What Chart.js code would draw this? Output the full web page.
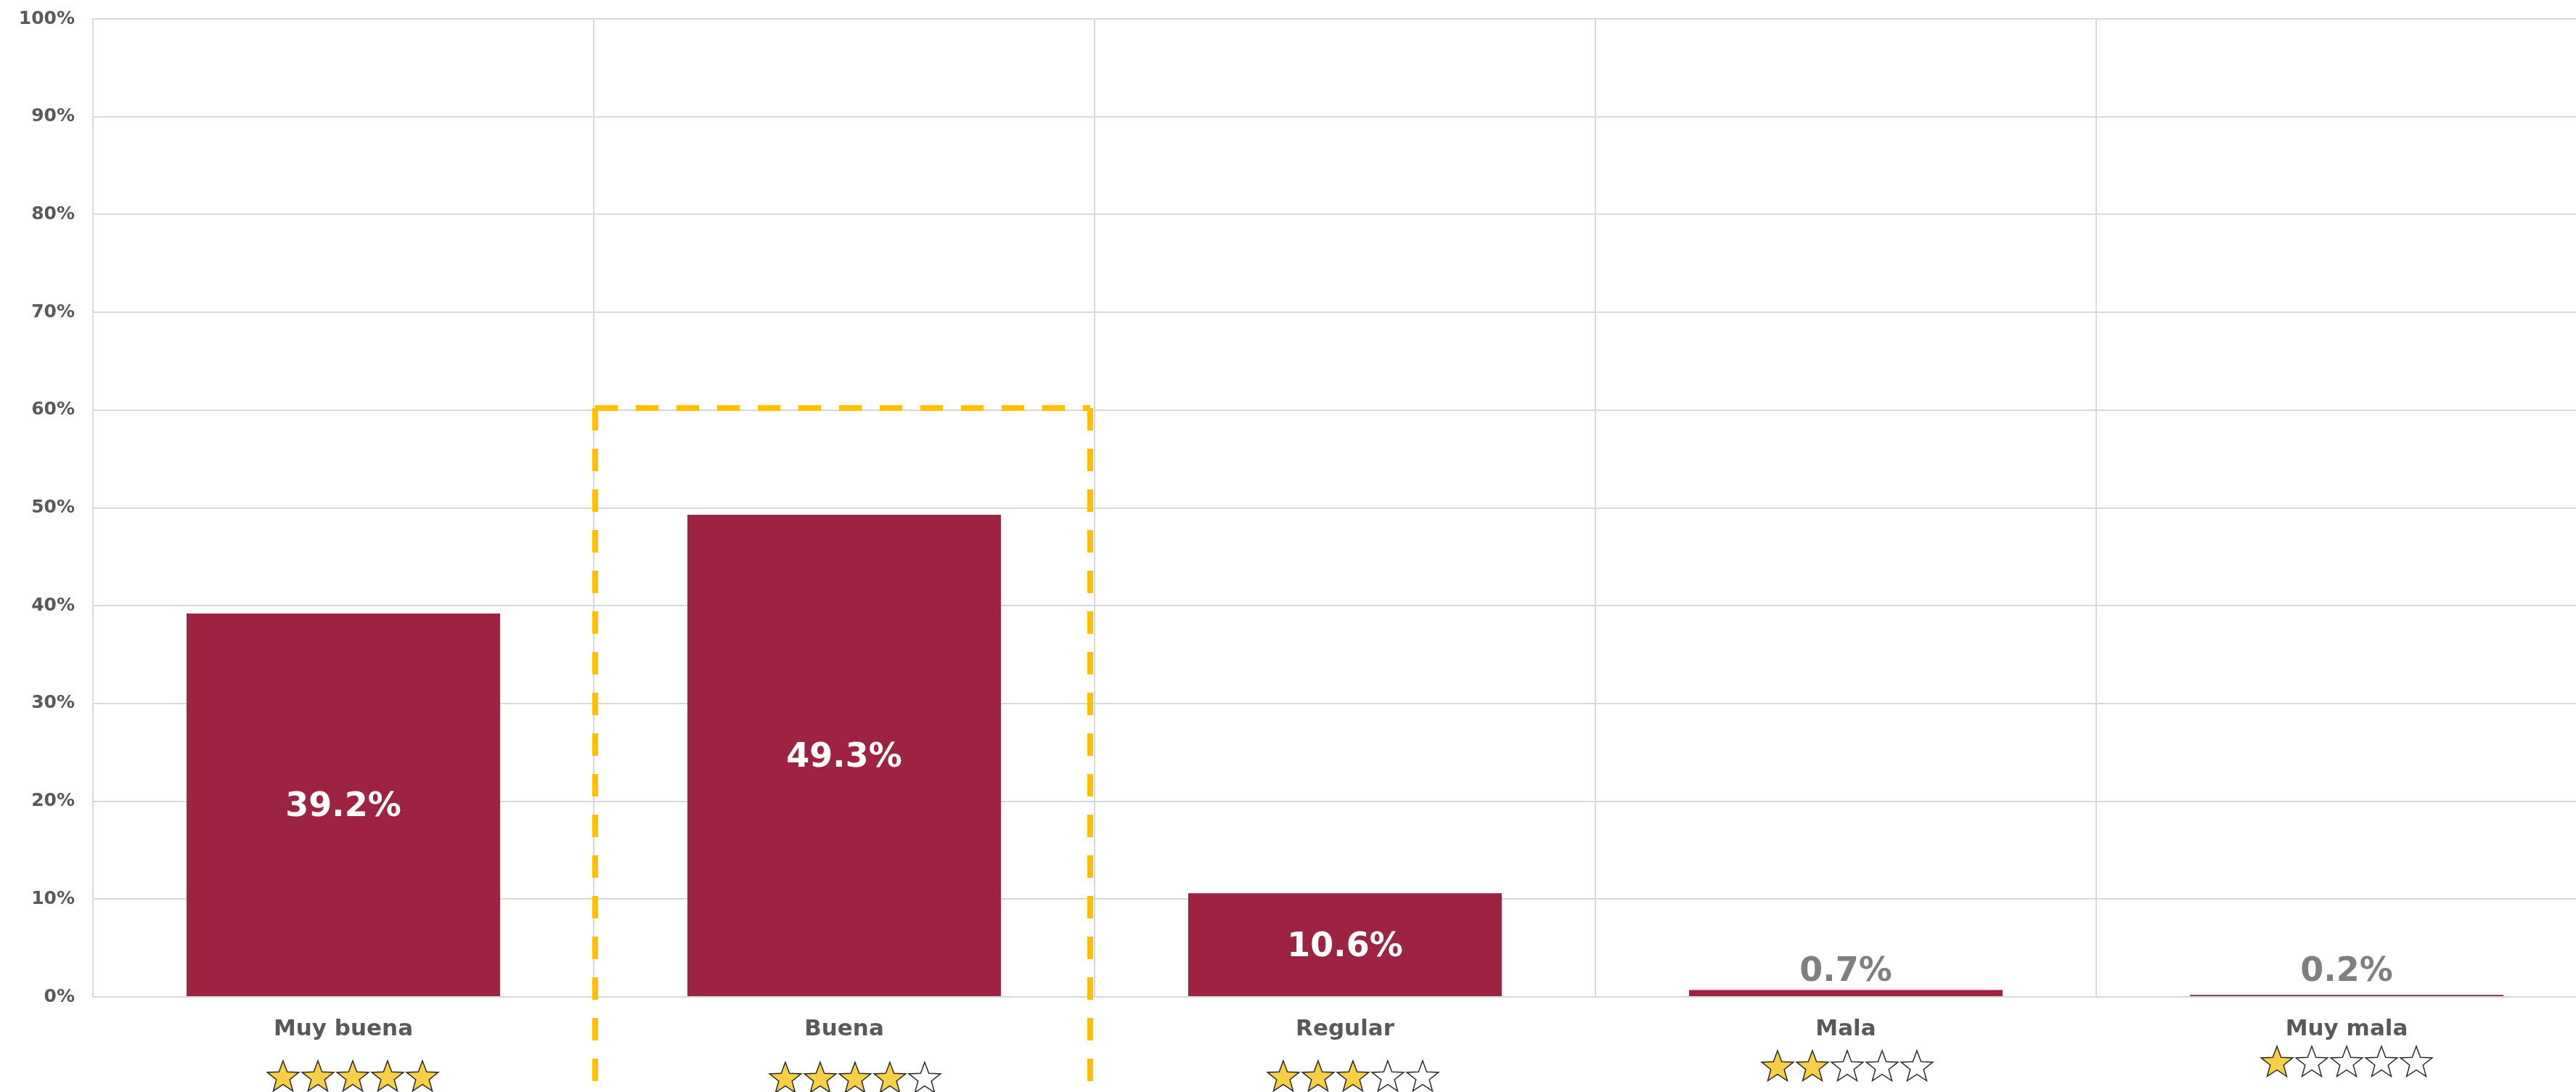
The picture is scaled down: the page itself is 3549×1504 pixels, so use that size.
<!DOCTYPE html>
<html lang="es">
<head>
    <meta charset="UTF-8">
    <title>Calificación</title>
    <script src="https://cdn.jsdelivr.net/npm/chart.js"></script>
    <style>
        html, body { margin: 0; padding: 0; background: #fff; overflow: hidden; }
        canvas { display: block; }
    </style>
</head>
<body>
    <canvas id="ratingChart" width="3578" height="1504"></canvas>
    <script>
        // Data
        const categories = ["Muy buena", "Buena", "Regular", "Mala", "Muy mala"];
        const shares = [39.2, 49.3, 10.6, 0.7, 0.2];
        const starsFilled = [5, 4, 3, 2, 1];
        const yTicks = [0, 10, 20, 30, 40, 50, 60, 70, 80, 90, 100];
        const highlightIndex = 1;
        const highlightTop = 60.2;

        const FONT = "'DejaVu Sans', Verdana, sans-serif";
        const BAR_COLOR = '#9e2241';
        const GRID = '#d9d9d9';
        // the star rows are not perfectly centred in the original
        const starShift = [[13, 6], [15, 8], [11, 6], [2, -8], [0, -14]];

        // value labels: inside the bar (white) or just above it (grey) when too small
        const barLabels = {
            id: 'barLabels',
            afterDatasetsDraw(chart) {
                const ctx = chart.ctx;
                const meta = chart.getDatasetMeta(0);
                ctx.save();
                ctx.font = 'bold 46px ' + FONT;
                ctx.textAlign = 'center';
                meta.data.forEach((bar, i) => {
                    const v = shares[i];
                    const txt = v.toFixed(1) + '%';
                    if (v >= 5) {
                        ctx.fillStyle = '#ffffff';
                        ctx.textBaseline = 'middle';
                        ctx.fillText(txt, bar.x, (bar.y + bar.base) / 2 + 4);
                    } else {
                        ctx.fillStyle = '#7f7f7f';
                        ctx.textBaseline = 'alphabetic';
                        ctx.fillText(txt, bar.x, Math.min(bar.y, bar.base - 9) - 12);
                    }
                });
                ctx.restore();
            }
        };

        function drawStar(ctx, cx, cy, r, filled) {
            const inner = r * 0.42;
            ctx.beginPath();
            for (let k = 0; k < 10; k++) {
                const rad = k % 2 === 0 ? r : inner;
                const a = -Math.PI / 2 + k * Math.PI / 5;
                const px = cx + rad * Math.cos(a);
                const py = cy + rad * Math.sin(a);
                if (k === 0) ctx.moveTo(px, py); else ctx.lineTo(px, py);
            }
            ctx.closePath();
            ctx.fillStyle = filled ? '#f8cf45' : '#ffffff';
            ctx.fill();
            ctx.lineWidth = 1.5;
            ctx.strokeStyle = '#2b2b2b';
            ctx.stroke();
        }

        // star rating row under each category label
        const ratingStars = {
            id: 'ratingStars',
            afterDraw(chart) {
                const ctx = chart.ctx;
                const xs = chart.scales.x;
                const y = chart.chartArea.bottom + 105;
                ctx.save();
                categories.forEach((c, i) => {
                    const cx = xs.getPixelForValue(i) + starShift[i][0];
                    for (let k = 0; k < 5; k++) {
                        drawStar(ctx, cx + (k - 2) * 48, y + starShift[i][1], 23, k < starsFilled[i]);
                    }
                });
                ctx.restore();
            }
        };

        // dashed highlight frame around one category
        const highlightBox = {
            id: 'highlightBox',
            afterDraw(chart) {
                const ctx = chart.ctx;
                const xs = chart.scales.x;
                const ys = chart.scales.y;
                const w = xs.width / categories.length;
                const cx = xs.getPixelForValue(highlightIndex);
                const left = cx - w / 2 + 2;
                const right = cx + w / 2 - 6;
                const top = ys.getPixelForValue(highlightTop);
                const bottom = chart.height + 40;
                ctx.save();
                ctx.strokeStyle = '#ffc000';
                ctx.lineWidth = 8;
                ctx.setLineDash([31, 25]);
                ctx.beginPath();
                ctx.moveTo(left, top);
                ctx.lineTo(right, top);
                ctx.stroke();
                ctx.beginPath();
                ctx.moveTo(left, top);
                ctx.lineTo(left, bottom);
                ctx.stroke();
                ctx.beginPath();
                ctx.moveTo(right, top);
                ctx.lineTo(right, bottom);
                ctx.stroke();
                ctx.restore();
            }
        };

        const ctx = document.getElementById('ratingChart').getContext('2d');
        new Chart(ctx, {
            type: 'bar',
            data: {
                labels: categories,
                datasets: [{
                    data: shares,
                    backgroundColor: BAR_COLOR,
                    borderWidth: 0,
                    barPercentage: 0.626,
                    categoryPercentage: 1.0
                }]
            },
            options: {
                responsive: false,
                animation: false,
                layout: { padding: { top: 26, left: 0, right: 0, bottom: 0 } },
                plugins: {
                    legend: { display: false },
                    tooltip: { enabled: false }
                },
                scales: {
                    x: {
                        grid: { color: GRID, lineWidth: 2, offset: true, drawTicks: false },
                        border: { color: GRID, width: 2 },
                        ticks: {
                            color: '#595959',
                            font: { family: FONT, size: 31, weight: 'bold' },
                            padding: 26
                        },
                        afterFit(scale) {
                            scale.height = 131;
                            scale.paddingLeft = 0;
                            scale.paddingRight = 0;
                        }
                    },
                    y: {
                        min: 0,
                        max: 100,
                        afterBuildTicks(scale) {
                            scale.ticks = yTicks.map(v => ({ value: v }));
                        },
                        grid: { color: GRID, lineWidth: 2, drawTicks: false },
                        border: { color: GRID, width: 2 },
                        ticks: {
                            color: '#595959',
                            font: { family: FONT, size: 25, weight: 'bold' },
                            padding: 25,
                            callback: v => v + '%'
                        },
                        afterFit(scale) {
                            scale.width = 128;
                            scale.paddingTop = 0;
                            scale.paddingBottom = 0;
                        }
                    }
                }
            },
            plugins: [barLabels, ratingStars, highlightBox]
        });
    </script>
</body>
</html>
